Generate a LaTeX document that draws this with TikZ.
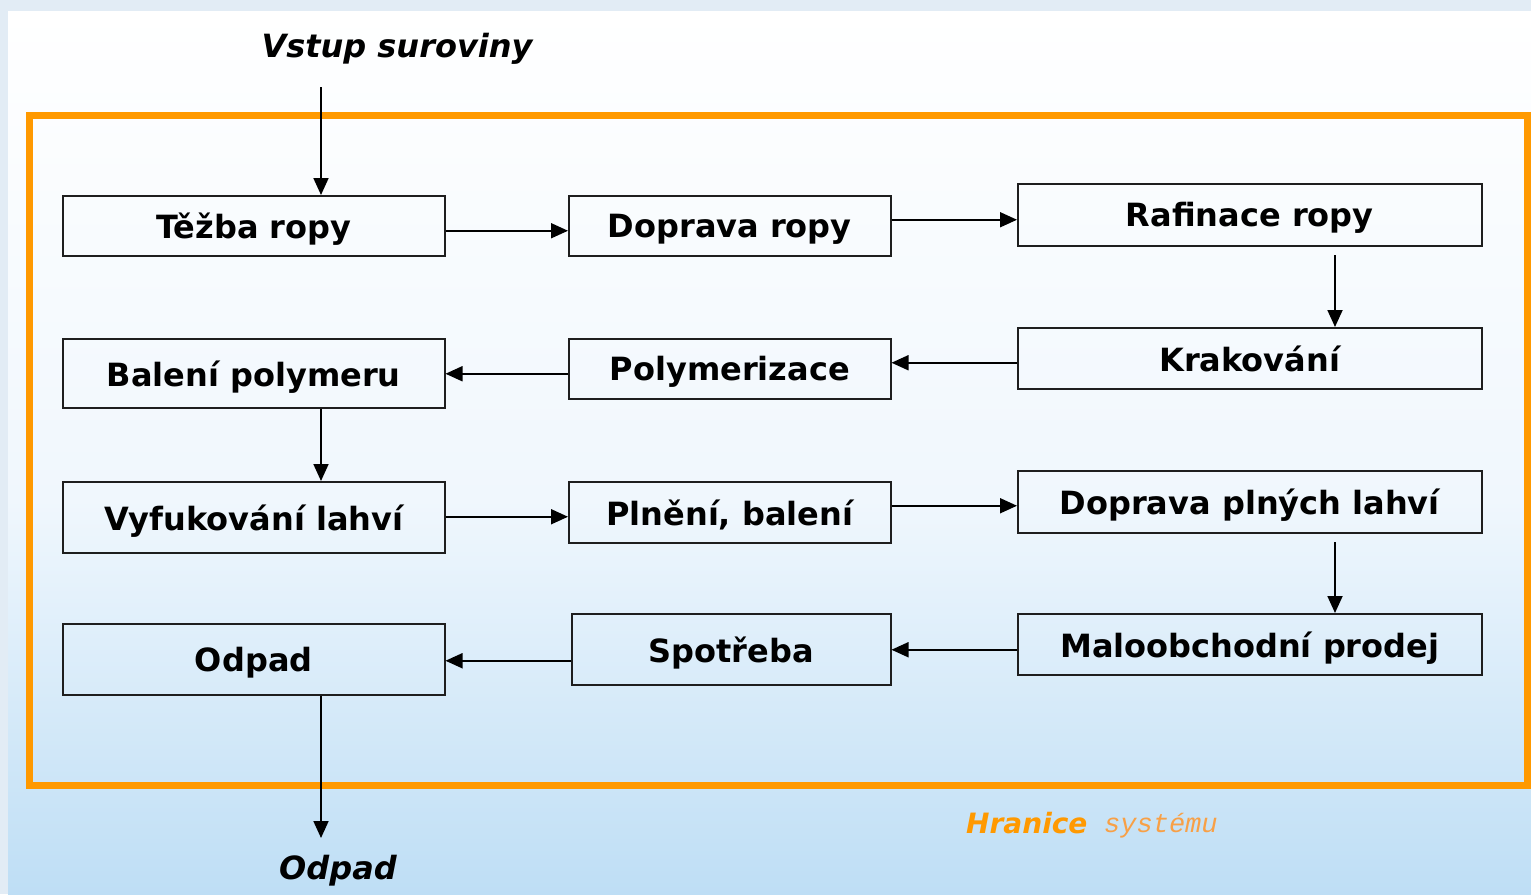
\documentclass[tikz,border=0pt]{standalone}
\usepackage{fontspec}
\setmainfont{DejaVu Sans}
\newfontfamily\monofnt{Liberation Mono}
\usetikzlibrary{arrows.meta,calc}
\definecolor{frameorange}{RGB}{255,153,0}
\definecolor{sysorange}{RGB}{248,160,70}
\definecolor{skybot}{RGB}{190,222,245}
\definecolor{skymid}{RGB}{240,247,253}
\definecolor{outerbg}{RGB}{226,236,245}
\definecolor{boxline}{RGB}{30,30,30}
\tikzset{
  stepbox/.style={draw=boxline, line width=1.5pt, inner sep=0pt, anchor=north west,
    font=\fontsize{32}{36}\selectfont\bfseries, text depth=0pt},
  flow/.style={line width=1.8pt, -{Triangle[length=17pt,width=15pt]}},
  ext/.style={font=\fontsize{32}{36}\selectfont\bfseries\itshape},
}
\begin{document}
\begin{tikzpicture}[x=1pt,y=-1pt]
\useasboundingbox (0,0) rectangle (1531,894);
\fill[outerbg] (0,0) rectangle (1531,894);
\shade[top color=white, bottom color=skymid] (8,11) rectangle (1531,500.5);
\shade[top color=skymid, bottom color=skybot] (8,500) rectangle (1531,894);
\draw[frameorange, line width=7pt] (29,115.5) rectangle (1527,785);

% boxes
\node[stepbox, minimum width=382pt, minimum height=60pt] (tezba) at (62,195) {Těžba ropy};
\node[stepbox, minimum width=322pt, minimum height=60pt] (doprava) at (568,195) {Doprava ropy};
\node[stepbox, minimum width=464pt, minimum height=62pt] (rafinace) at (1017,183) {Rafinace ropy};
\node[stepbox, minimum width=382pt, minimum height=69pt] (baleni) at (62,338) {Balení polymeru};
\node[stepbox, minimum width=322pt, minimum height=60pt] (polym) at (568,338) {Polymerizace};
\node[stepbox, minimum width=464pt, minimum height=61pt] (krak) at (1017,327) {Krakování};
\node[stepbox, minimum width=382pt, minimum height=71pt] (vyfuk) at (62,481) {Vyfukování lahví};
\node[stepbox, minimum width=322pt, minimum height=61pt] (plneni) at (568,481) {Plnění, balení};
\node[stepbox, minimum width=464pt, minimum height=62pt] (dopplny) at (1017,470) {Doprava plných lahví};
\node[stepbox, minimum width=382pt, minimum height=71pt] (odpadbox) at (62,623) {Odpad};
\node[stepbox, minimum width=319pt, minimum height=71pt] (spotreba) at (571,613) {Spotřeba};
\node[stepbox, minimum width=464pt, minimum height=61pt] (malo) at (1017,613) {Maloobchodní prodej};

% external texts
\node[ext] (vstup) at (397,49) {Vstup suroviny};
\node[ext] (odpadout) at (338,871) {Odpad};
\node[font=\fontsize{28}{32}\selectfont\bfseries\itshape, text=frameorange, anchor=west, inner sep=0pt] (hranice) at (966,823) {Hranice};
\node[font=\fontsize{27}{32}\selectfont\monofnt\itshape, text=sysorange, anchor=west, inner sep=0pt] (systemu) at (1104,826) {systému};

\coordinate (vin) at (321,87);
\coordinate (rafout) at (1335,255);
\coordinate (dpout) at (1335,542);

% connectors
\draw[flow] (vin) -- (vin |- tezba.north);
\draw[flow] ($(tezba.east)+(0,5)$) -- ($(doprava.west)+(0,5)$);
\draw[flow] ($(doprava.east)+(0,-6)$) -- (rafinace.west |- {$(doprava.east)+(0,-6)$});
\draw[flow] (rafout) -- (rafout |- krak.north);
\draw[flow] ($(krak.west)+(0,4.5)$) -- (polym.east |- {$(krak.west)+(0,4.5)$});
\draw[flow] ($(polym.west)+(0,5)$) -- (baleni.east |- {$(polym.west)+(0,5)$});
\draw[flow] (baleni.south -| vin) -- (vyfuk.north -| vin);
\draw[flow] ($(vyfuk.east)+(0,-0.5)$) -- (plneni.west |- {$(vyfuk.east)+(0,-0.5)$});
\draw[flow] ($(plneni.east)+(0,-6.5)$) -- (dopplny.west |- {$(plneni.east)+(0,-6.5)$});
\draw[flow] (dpout) -- (dpout |- malo.north);
\draw[flow] ($(malo.west)+(0,5.5)$) -- (spotreba.east |- {$(malo.west)+(0,5.5)$});
\draw[flow] ($(spotreba.west)+(0,11.5)$) -- (odpadbox.east |- {$(spotreba.west)+(0,11.5)$});
\draw[flow] (odpadbox.south -| vin) -- (vin |- {(0,838)});
\end{tikzpicture}
\end{document}
